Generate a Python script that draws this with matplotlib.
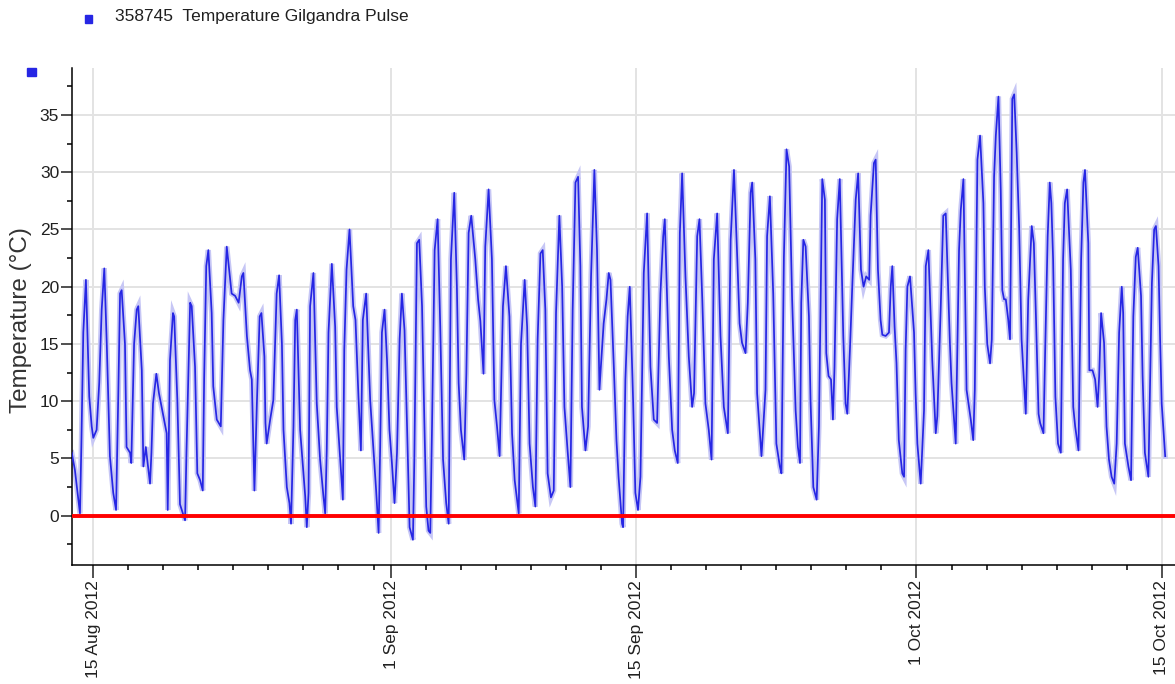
import numpy as np
import matplotlib
matplotlib.use("Agg")
import matplotlib.pyplot as plt
import matplotlib.dates as mdates
from matplotlib.patches import Rectangle

# Readings taken off the chart: time in days after 15 Aug 2012 00:00, temperature in degC
aug_days = [
    -1.23, -1.05, -0.76, -0.68, -0.57, -0.42, -0.23, -0.09, 0.0, 0.19,
    0.34, 0.48, 0.63, 0.77, 0.95, 1.14, 1.30, 1.43, 1.53, 1.62,
    1.81, 1.90, 2.10, 2.17, 2.33, 2.48, 2.57, 2.77, 2.86, 3.0,
    3.08, 3.24, 3.32, 3.41, 3.6, 3.75, 4.0, 4.19, 4.25, 4.38,
    4.55, 4.62, 4.8, 4.95, 5.24, 5.32, 5.53, 5.62, 5.81, 5.94,
    6.1, 6.25, 6.33, 6.45, 6.57, 6.76, 6.85, 7.05, 7.28, 7.43,
    7.62, 7.9, 8.1, 8.3, 8.48, 8.57, 8.77, 8.95, 9.05, 9.2,
    9.34, 9.5, 9.6, 9.77, 9.83, 9.9, 10.1, 10.28, 10.47, 10.61,
    10.77, 10.86, 11.05, 11.2, 11.29, 11.43, 11.53, 11.62, 11.81, 12.0,
    12.1, 12.19, 12.29, 12.38, 12.57, 12.76, 12.95, 13.14, 13.24, 13.33,
    13.43, 13.62, 13.81, 13.9, 14.1, 14.25, 14.33, 14.46, 14.63, 14.84,
    14.97, 15.14, 15.28, 15.39, 15.58, 15.81, 16.0, 16.15, 16.29, 16.38,
    16.48, 16.63, 16.77, 16.91,
]
aug_temps = [
    5.5, 4.0, 0.2, 6.2, 16, 20.6, 10.4, 7.8, 6.8, 7.5,
    11.6, 18, 21.6, 15, 5.2, 2, 0.5, 10.7, 19.4, 19.7,
    15, 6, 5.5, 4.6, 15, 18, 18.3, 12.7, 4.3, 6,
    4.9, 2.8, 5.5, 9.8, 12.4, 10.7, 8.7, 7.2, 0.5, 13.6,
    17.7, 17.4, 10.1, 1, -0.4, 5.5, 18.6, 18.3, 13, 3.7,
    3.1, 2.2, 12, 21.8, 23.2, 17.7, 11.3, 8.4, 7.8, 17.1,
    23.5, 19.4, 19.2, 18.6, 20.9, 21.2, 15.7, 12.7, 11.9, 2.2,
    9.8, 17.4, 17.7, 13.9, 8.1, 6.3, 8.4, 10.1, 19.4, 21,
    15, 7.5, 2.5, 1.1, -0.7, 7.8, 17.1, 18, 7.5, 3.7,
    1.7, -1, 2, 18.3, 21.2, 9.8, 4.9, 1.7, 0.2, 5.7,
    16, 22, 16.5, 9.5, 4.9, 1.4, 14.5, 21.5, 25, 18.3,
    17.1, 10.4, 5.7, 17.1, 19.4, 10.1, 5.7, 2.2, -1.5, 6,
    16, 18, 13.6, 7.5,
]

sep1_days = [
    17.05, 17.2, 17.34, 17.49, 17.62, 17.77, 17.91, 18.06, 18.25, 18.33,
    18.48, 18.61, 18.77, 18.9, 19.01, 19.14, 19.24, 19.34, 19.49, 19.66,
    19.81, 19.97, 20.15, 20.29, 20.42, 20.61, 20.76, 20.86, 20.99, 21.18,
    21.3, 21.43, 21.58, 21.81, 21.97, 22.1, 22.28, 22.38, 22.57, 22.76,
    22.9, 23.05, 23.2, 23.39, 23.56, 23.76, 23.91, 24.06, 24.29, 24.42,
    24.63, 24.77, 24.91, 25.1, 25.24, 25.37, 25.53, 25.66, 25.81, 25.94,
    26.13, 26.29, 26.42, 26.61, 26.77, 26.9, 27.08, 27.24, 27.37, 27.53,
    27.68, 27.81, 27.9, 28.1, 28.25, 28.42, 28.61, 28.76, 28.9, 28.98,
    29.14, 29.3, 29.43, 29.53, 29.72, 29.87, 29.99, 30.19, 30.25, 30.38,
    30.51, 30.63, 30.82, 30.95,
]
sep1_temps = [
    4.6, 1.1, 5.5, 15.4, 19.4, 16.2, 8.1, -1, -2.1, 4.9,
    23.8, 24.1, 18.3, 8.4, 0.8, -1.3, -1.5, 7.8, 23.2, 25.9,
    16.5, 4.9, 1.1, -0.7, 22.4, 28.2, 20, 11.6, 7.5, 4.9,
    12.4, 24.7, 26.2, 22.4, 18.9, 17.0, 12.4, 23.5, 28.5, 22.4,
    10.1, 7.8, 5.2, 18.3, 21.8, 17.4, 7.2, 3.1, 0.2, 15,
    20.6, 16.5, 6.3, 2.5, 0.8, 15.4, 22.9, 23.2, 18, 3.7,
    1.6, 2.2, 17.7, 26.2, 20, 9.5, 5.7, 2.5, 18, 29.1,
    29.6, 21.8, 9.5, 5.7, 7.8, 20.9, 30.2, 23.2, 11, 13,
    16.8, 18.9, 21.2, 20.6, 13, 6.6, 3.4, -0.7, -1, 11.9,
    17.4, 20, 10.1, 2,
]

sep2_days = [
    31.1, 31.24, 31.43, 31.62, 31.81, 32.0, 32.19, 32.38, 32.54, 32.63,
    32.86, 33.05, 33.2, 33.37, 33.49, 33.62, 33.81, 34.0, 34.19, 34.3,
    34.48, 34.61, 34.77, 34.95, 35.14, 35.3, 35.43, 35.62, 35.81, 36.0,
    36.23, 36.39, 36.58, 36.77, 36.9, 37.04, 37.24, 37.37, 37.53, 37.62,
    37.8, 37.9, 38.15, 38.38, 38.47, 38.63, 38.82, 39.0, 39.2, 39.29,
    39.43, 39.58, 39.73, 39.9, 40.1, 40.23, 40.35, 40.42, 40.54, 40.67,
    40.86, 40.95, 41.11, 41.3, 41.43, 41.53, 41.62, 41.77, 41.85, 41.98,
    42.12, 42.23, 42.32, 42.47, 42.62, 42.82, 42.95, 43.05, 43.2, 43.34,
    43.53, 43.67, 43.83, 43.98, 44.13, 44.3, 44.38, 44.57, 44.67, 44.8,
    44.95, 45.05, 45.24, 45.43, 45.53, 45.62, 45.75, 45.86, 45.99, 46.19,
    46.29, 46.38, 46.48, 46.63, 46.86, 46.95,
]
sep2_temps = [
    0.5, 3.4, 21.2, 26.4, 13, 8.4, 8.1, 19.4, 24.4, 25.9,
    13.9, 7.5, 5.7, 4.6, 24.7, 29.9, 20.9, 13.9, 9.5, 10.7,
    24.4, 25.9, 18.9, 9.8, 7.5, 4.9, 22.4, 26.4, 15.7, 9.5,
    7.2, 24.1, 30.2, 22.4, 16.8, 15.1, 14.2, 18.6, 28.2, 29.1,
    22.4, 10.7, 5.2, 11, 24.4, 27.9, 19.4, 6.3, 4.3, 3.7,
    22.6, 32, 30.5, 18.9, 9.2, 6, 4.6, 18.6, 24.1, 23.5,
    17.4, 10.1, 2.5, 1.4, 7.8, 19.4, 29.4, 27.6, 14.2, 12.2,
    11.9, 8.4, 13, 25.9, 29.4, 15.7, 9.8, 8.9, 14.5, 20.3,
    27.6, 29.9, 21.5, 20, 20.9, 20.6, 26.2, 30.8, 31.1, 21.5,
    17.1, 15.8, 15.7, 16, 20, 21.8, 16.5, 13.3, 6.6, 3.7,
    3.4, 14.5, 20, 20.9, 16, 10.7,
]

oct_days = [
    47.05, 47.24, 47.43, 47.53, 47.68, 47.9, 48.1, 48.19, 48.38, 48.53,
    48.67, 48.91, 49.0, 49.24, 49.43, 49.53, 49.68, 49.86, 50.1, 50.24,
    50.33, 50.48, 50.63, 50.82, 50.9, 51.04, 51.2, 51.3, 51.43, 51.53,
    51.68, 51.81, 51.9, 52.0, 52.1, 52.24, 52.34, 52.47, 52.58, 52.72,
    52.86, 53.0, 53.13, 53.24, 53.38, 53.58, 53.7, 53.82, 53.97, 54.06,
    54.25, 54.34, 54.49, 54.61, 54.7, 54.8, 54.93, 55.08, 55.24, 55.37,
    55.47, 55.6, 55.81, 55.95, 56.06, 56.25, 56.4, 56.53, 56.62, 56.81,
    56.87, 57.05, 57.2, 57.34, 57.43, 57.54, 57.71, 57.85, 57.99, 58.14,
    58.29, 58.43, 58.57, 58.72, 58.8, 58.9, 59.1, 59.25, 59.38, 59.52,
    59.63, 59.82, 59.91, 60.04, 60.24, 60.44, 60.57, 60.67, 60.82, 60.91,
    61.0, 61.2,
]
oct_temps = [
    6.3, 2.8, 9.2, 21.8, 23.2, 13.6, 7.2, 8.7, 18, 26.2,
    26.4, 15, 11.6, 6.3, 23.2, 26.7, 29.4, 11, 8.4, 6.6,
    11, 31.1, 33.2, 27.3, 20, 15, 13.3, 15.4, 29.6, 33.2,
    36.6, 28.5, 19.7, 18.9, 18.9, 17.1, 15.4, 36.4, 36.8, 31.7,
    25.3, 15.4, 11.9, 8.9, 18.9, 25.3, 23.8, 17.4, 8.9, 8.1,
    7.2, 13.9, 24.4, 29.1, 27.3, 22.4, 10.4, 6.3, 5.5, 22.4,
    27.3, 28.5, 21.5, 9.5, 7.8, 5.7, 22.4, 29.1, 30.2, 23.8,
    12.7, 12.7, 11.9, 9.5, 12.2, 17.7, 15.1, 7.8, 4.9, 3.4,
    2.8, 6.3, 16, 20, 17.7, 6.3, 4.3, 3.1, 17.4, 22.6,
    23.4, 19.2, 12.2, 5.5, 3.4, 20.3, 25, 25.3, 21.8, 15.4,
    9.8, 5.2,
]

series_label = "358745  Temperature Gilgandra Pulse"
y_label = "Temperature (°C)"

START = np.datetime64("2012-08-15T00:00")
DARK = "#2626E4"
LIGHT = "#C6C6F5"


def to_dates(days):
    minutes = np.round(np.asarray(days) * 1440).astype(int).astype("timedelta64[m]")
    return (START + minutes).astype("datetime64[ms]").astype(object)


def main():
    plt.rcParams["font.family"] = ["Liberation Sans", "DejaVu Sans"]

    days = aug_days + sep1_days + sep2_days + oct_days
    temps = aug_temps + sep1_temps + sep2_temps + oct_temps
    t = to_dates(days)

    fig = plt.figure(figsize=(11.75, 6.84), dpi=100)
    ax = fig.add_axes([0.061, 0.174, 0.939, 0.7266])

    ax.plot(t, temps, color=LIGHT, lw=3.8, solid_joinstyle="miter", zorder=2)
    ax.plot(t, temps, color=DARK, lw=1.25, zorder=3)
    ax.axhline(0, color="#FF0000", lw=2.8, zorder=4)

    ax.set_xlim(to_dates([-1.233, 61.76]))
    ax.set_ylim(-4.3, 39.1)

    ax.xaxis.set_major_locator(mdates.DayLocator(bymonthday=[1, 15]))
    ax.xaxis.set_minor_locator(mdates.DayLocator(bymonthday=list(range(1, 32, 2))))
    ax.xaxis.set_major_formatter(mdates.DateFormatter("%-d %b %Y"))
    ax.set_yticks(np.arange(0, 36, 5))
    ax.set_yticks(np.arange(-2.5, 39, 2.5), minor=True)

    ax.grid(True, which="major", color="#E3E3E3", lw=1.4)
    ax.set_axisbelow(True)

    for side in ("top", "right"):
        ax.spines[side].set_visible(False)
    for side in ("left", "bottom"):
        ax.spines[side].set_linewidth(1.1)

    ax.tick_params(axis="x", which="major", length=9, width=1.1, pad=2,
                   labelsize=12.5, labelrotation=90, colors="#202020")
    ax.tick_params(axis="x", which="minor", length=3.5, width=1.1)
    ax.tick_params(axis="y", which="major", length=8, width=1.1, pad=1,
                   labelsize=12.5, colors="#202020")
    ax.tick_params(axis="y", which="minor", length=3.5, width=1.1)

    fig.text(21 / 1175, 1 - 320 / 684, y_label, rotation=90, ha="center",
             va="center", fontsize=17.5, color="#333333")

    # legend entry and axis marker
    fig.add_artist(Rectangle((85 / 1175, 1 - 23 / 684), 7 / 1175, 8 / 684,
                             transform=fig.transFigure, color=DARK))
    fig.text(115 / 1175, 1 - 17 / 684, series_label, ha="left", va="center",
             fontsize=12.5, color="#202020")
    fig.add_artist(Rectangle((27 / 1175, 1 - 76 / 684), 9 / 1175, 8 / 684,
                             transform=fig.transFigure, color=DARK))

    fig.savefig("out.png", dpi=100)


if __name__ == "__main__":
    main()
